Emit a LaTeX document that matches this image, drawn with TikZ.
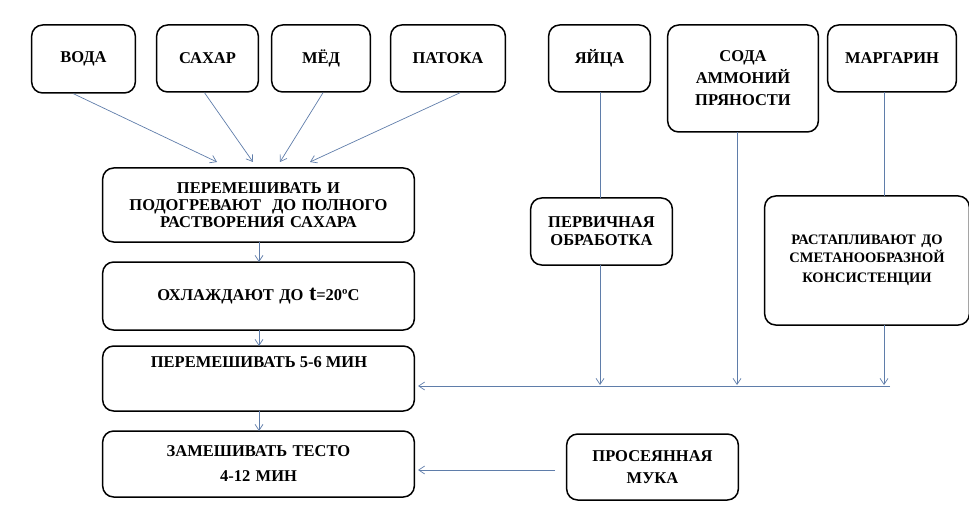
\documentclass[tikz,border=0pt]{standalone}
\usepackage{fontspec}
\setmainfont{Liberation Serif}
\usetikzlibrary{arrows.meta}
\definecolor{ln}{RGB}{95,125,170}
\tikzset{box/.style={draw,line width=1.5pt,rounded corners=11pt,align=center,font=\bfseries\fontsize{16.5}{20}\selectfont},
ar/.style={draw=ln,-{Straight Barb[length=6pt,width=8pt]},line width=0.7pt}}
\newcommand{\bx}[6]{\node[box,minimum width=#4-#2,minimum height=#5-#3,text width=#4-#2-6pt] (#1) at ({(#2+#4)/2},{(#3+#5)/2}) {#6};}
\begin{document}
\begin{tikzpicture}[x=1pt,y=-1pt]
\useasboundingbox (0,0) rectangle (969,505);
\bx{voda}{32}{25}{135}{93}{ВОДА}
\bx{sah}{157}{25}{258}{92}{САХАР}
\bx{med}{272}{25}{370}{92}{МЁД}
\bx{pat}{391}{25}{505}{92}{ПАТОКА}
\bx{yai}{549}{25}{650}{92}{ЯЙЦА}
\bx{soda}{668}{25}{818}{132}{СОДА\\[2pt]АММОНИЙ\\[2pt]ПРЯНОСТИ}
\bx{marg}{828}{25}{956}{92}{МАРГАРИН}
\bx{p1}{103}{168}{414}{242}{ПЕРЕМЕШИВАТЬ И\\[-3pt]ПОДОГРЕВАЮТ \ ДО ПОЛНОГО\\[-3pt]РАСТВОРЕНИЯ САХАРА}
\bx{p2}{103}{262}{414}{330}{ОХЛАЖДАЮТ ДО {\fontsize{22}{20}\selectfont t}=20ºС}
\bx{p3}{103}{346}{414}{411}{}
\node[font=\bfseries\fontsize{16.5}{20}\selectfont] at (259,362) {ПЕРЕМЕШИВАТЬ 5-6 МИН};
\bx{p4}{103}{431}{414}{497}{ЗАМЕШИВАТЬ ТЕСТО\\[5pt]4-12 МИН}
\bx{perv}{531}{198}{672}{265}{ПЕРВИЧНАЯ\\[-2pt]ОБРАБОТКА}
\bx{rast}{765}{196}{969}{325}{\fontsize{14.5}{18}\selectfont РАСТАПЛИВАЮТ ДО\\СМЕТАНООБРАЗНОЙ\\КОНСИСТЕНЦИИ}
\bx{muka}{567}{434}{738}{500}{ПРОСЕЯННАЯ\\[2pt]МУКА}
\coordinate (j) at (418,386);
\draw[ar] ([xshift=-10]voda.south) -- (217,162);
\draw[ar] ([xshift=-3]sah.south) -- (253,162);
\draw[ar] ([xshift=2]med.south) -- (280,162);
\draw[ar] ([xshift=12]pat.south) -- (310,162);
\draw[ar] (259,242) -- (259,262);
\draw[ar] (259,330) -- (259,346);
\draw[ar] (259,411) -- (259,431);
\draw[ln,line width=0.7pt] (600,92) -- (600,198);
\draw[ar] (600,265) -- (600,385);
\draw[ar] (737,132) -- (737,385);
\draw[ln,line width=0.7pt] (884,92) -- (884,196);
\draw[ar] (884,325) -- (884,385);
\draw[ar] (890,386) -- (j);
\draw[ar] (555,470) -- (418,470);
\end{tikzpicture}
\end{document}
